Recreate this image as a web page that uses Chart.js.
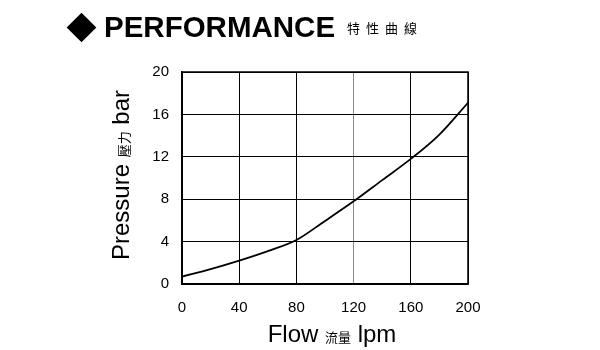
<!DOCTYPE html>
<html>
<head>
<meta charset="utf-8">
<script src="https://cdn.jsdelivr.net/npm/chart.js@4"></script>
<style>
  body { margin: 0; background: #fff; }
  #wrap { position: relative; width: 600px; height: 350px; }
  #dia { position: absolute; left: 71px; top: 17px; width: 21px; height: 21px; background: #000; transform: rotate(45deg); }
  #head { position: absolute; left: 104px; top: 10px; font-family: "Liberation Sans", Arial, sans-serif; white-space: nowrap; }
  #head .en { font-size: 29.5px; font-weight: bold; vertical-align: middle; }
  #head .zh { font-family: "Noto Sans CJK TC", sans-serif; font-size: 13px; letter-spacing: 6px; vertical-align: middle; margin-left: 12px; }
</style>
</head>
<body>
<div id="wrap">
  <canvas id="grafico" width="600" height="350"></canvas>
  <div id="dia"></div>
  <div id="head"><span class="en">PERFORMANCE</span><span class="zh">特性曲線</span></div>
</div>
<script>
// datos
const caudal = [0, 20, 40, 60, 80, 100, 120, 140, 160, 180, 200];
const presion = [0.7, 1.4, 2.2, 3.1, 4.15, 5.95, 7.8, 9.8, 11.8, 14.1, 17.1];
const ticksX = [0, 40, 80, 120, 160, 200];
const ticksY = [0, 4, 8, 12, 16, 20];

// titulos de ejes con tamanos mezclados
const titulosEjes = {
    id: 'titulosEjes',
    afterDraw(chart) {
        const ctx = chart.ctx;
        const area = chart.chartArea;
        function partes(trozos, cx, cy, rot) {
            ctx.save();
            ctx.translate(cx, cy);
            ctx.rotate(rot);
            ctx.fillStyle = '#000';
            ctx.textBaseline = 'alphabetic';
            let total = 0;
            trozos.forEach(t => { ctx.font = t.f; total += ctx.measureText(t.s).width; });
            let x = -total / 2;
            trozos.forEach(t => {
                ctx.font = t.f;
                ctx.fillText(t.s, x, 8);
                x += ctx.measureText(t.s).width;
            });
            ctx.restore();
        }
        const grande = '24px "Liberation Sans", Arial, sans-serif';
        const chico = '13px "Noto Sans CJK TC", sans-serif';
        partes([{s: 'Pressure ', f: grande}, {s: '壓力', f: chico}, {s: ' bar', f: grande}],
            121, (area.top + area.bottom) / 2 - 3, -Math.PI / 2);
        partes([{s: 'Flow ', f: grande}, {s: '流量', f: chico}, {s: ' lpm', f: grande}],
            (area.left + area.right) / 2 + 7, 334, 0);
    }
};

new Chart(document.getElementById('grafico').getContext('2d'), {
    type: 'line',
    data: {
        datasets: [{
            data: caudal.map((x, i) => ({x: x, y: presion[i]})),
            borderColor: '#000',
            borderWidth: 1.8,
            pointRadius: 0,
            cubicInterpolationMode: 'monotone',
            fill: false
        }]
    },
    options: {
        responsive: false,
        animation: false,
        layout: { padding: { left: 0, top: 72, right: 132, bottom: 0 } },
        plugins: { legend: { display: false }, tooltip: { enabled: false } },
        scales: {
            x: {
                type: 'linear',
                min: 0, max: 200,
                afterBuildTicks: s => { s.ticks = ticksX.map(v => ({value: v})); },
                afterFit: s => { s.height = 66; },
                grid: {
                    color: c => c.tick && c.tick.value === 120 ? '#888' : '#000',
                    lineWidth: 1,
                    drawTicks: false
                },
                border: { color: '#000', width: 1.5 },
                ticks: { color: '#000', padding: 15, font: { size: 15, family: '"Liberation Sans", Arial' }, maxRotation: 0 }
            },
            y: {
                min: 0, max: 20,
                afterBuildTicks: s => { s.ticks = ticksY.map(v => ({value: v})); },
                afterFit: s => { s.width = 182; },
                grid: { color: '#000', lineWidth: 1, drawTicks: false },
                border: { color: '#000', width: 1.5 },
                ticks: { color: '#000', padding: 13, font: { size: 15, family: '"Liberation Sans", Arial' } }
            }
        }
    },
    plugins: [titulosEjes, {
        id: 'marco',
        afterDraw(chart) {
            const a = chart.chartArea, ctx = chart.ctx;
            ctx.save();
            ctx.strokeStyle = '#000';
            ctx.lineWidth = 1.5;
            ctx.strokeRect(a.left, a.top, a.right - a.left, a.bottom - a.top);
            ctx.restore();
        }
    }]
});
</script>
</body>
</html>
